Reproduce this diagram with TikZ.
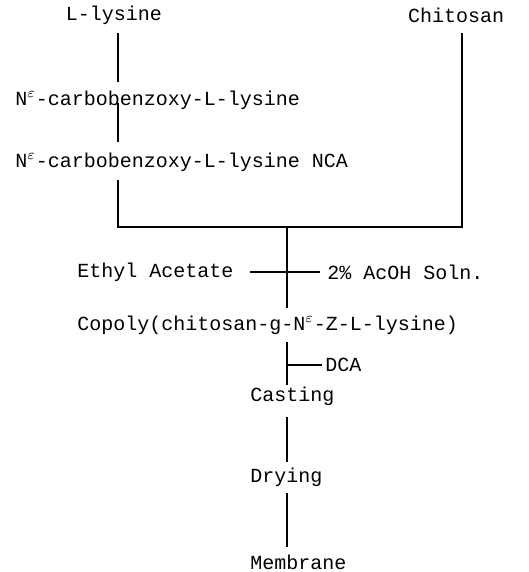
\documentclass[tikz,border=0pt]{standalone}
\usepackage{fontspec}
\setmonofont{Liberation Mono}
\begin{document}
\begin{tikzpicture}[x=0.5pt,y=-0.5pt,
  lbl/.style={font=\ttfamily\fontsize{10}{12}\selectfont, inner sep=0pt},
  ln/.style={line width=1pt}]
\useasboundingbox (0,0) rectangle (529,572);
% texts
\node[lbl] (lys) at (114,15) {L-lysine};
\node[lbl] (chit) at (456,15) {Chitosan};
\node[lbl,anchor=west] (cbz) at (15,100) {N$^{\varepsilon}$-carbobenzoxy-L-lysine};
\node[lbl,anchor=west] (nca) at (15,162) {N$^{\varepsilon}$-carbobenzoxy-L-lysine NCA};
\node[lbl,anchor=west] (ea) at (77,272) {Ethyl Acetate};
\node[lbl,anchor=west] (acoh) at (327,272) {2\% AcOH Soln.};
\node[lbl,anchor=west] (cop) at (77,325) {Copoly(chitosan-g-N$^{\varepsilon}$-Z-L-lysine)};
\node[lbl,anchor=west] (dca) at (325,365) {DCA};
\node[lbl,anchor=west] (cast) at (250,396) {Casting};
\node[lbl,anchor=west] (dry) at (250,477) {Drying};
\node[lbl,anchor=west] (mem) at (250,562) {Membrane};
% connector end points
\coordinate (l1a) at (118,33);  \coordinate (l1b) at (118,82);
\coordinate (l2a) at (118,103); \coordinate (l2b) at (118,142);
\coordinate (l3a) at (118,180);
\coordinate (jl) at (118,227);  \coordinate (jr) at (462,227);
\coordinate (ch) at (462,33);
\coordinate (jm) at (287,227);  \coordinate (m1) at (287,308);
\coordinate (eaR) at (250,272); \coordinate (acL) at (320,272);
\coordinate (m2a) at (287,342); \coordinate (m2b) at (287,385);
\coordinate (dj) at (287,365);  \coordinate (dE) at (322,365);
\coordinate (m3a) at (287,417); \coordinate (m3b) at (287,462);
\coordinate (m4a) at (287,493); \coordinate (m4b) at (287,547);
% connectors
\draw[ln] (l1a) -- (l1b);
\draw[ln] (l2a) -- (l2b);
\draw[ln] (l3a) -- (jl) -- (jr) -- (ch);
\draw[ln] (jm) -- (m1);
\draw[ln] (eaR) -- (acL);
\draw[ln] (m2a) -- (m2b);
\draw[ln] (dj) -- (dE);
\draw[ln] (m3a) -- (m3b);
\draw[ln] (m4a) -- (m4b);
\end{tikzpicture}
\end{document}
